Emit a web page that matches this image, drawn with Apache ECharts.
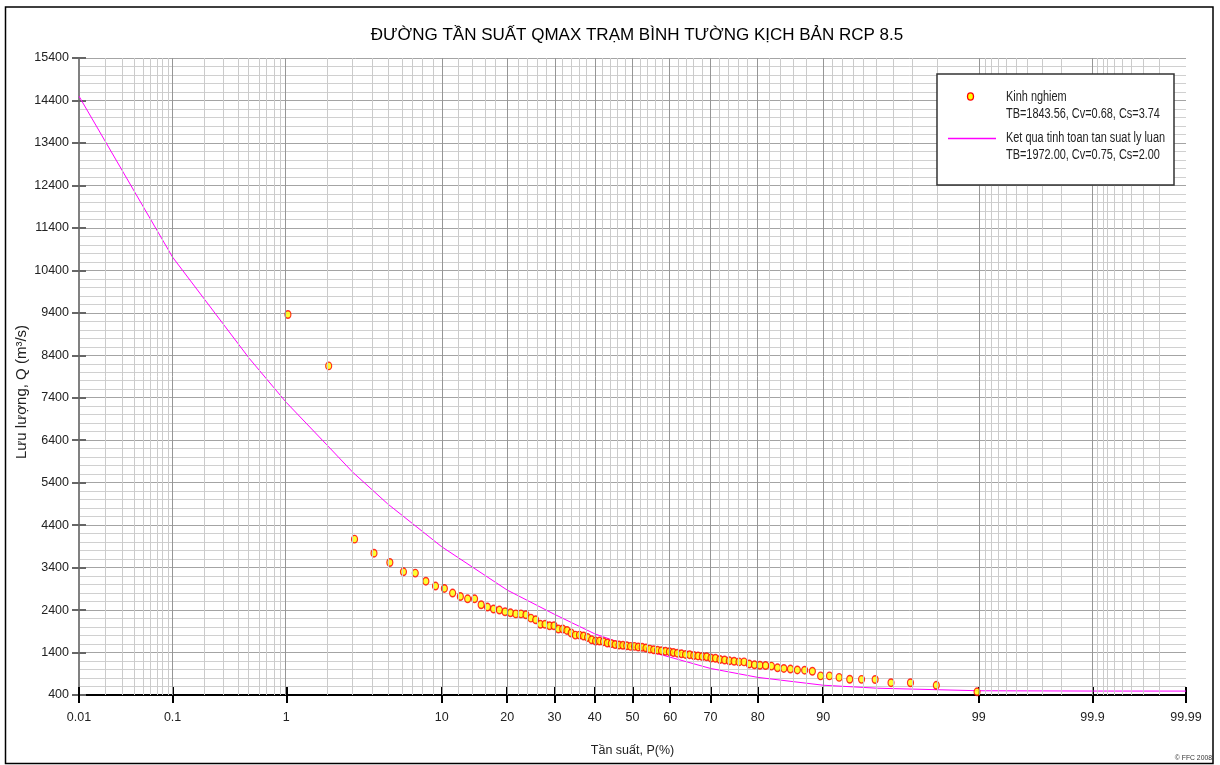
<!DOCTYPE html>
<html>
<head>
<meta charset="utf-8">
<script src="https://cdn.jsdelivr.net/npm/echarts@6/dist/echarts.min.js"></script>
<style>
  html, body { margin: 0; padding: 0; background: #fff; }
  #chart { width: 1220px; height: 765px; }
</style>
</head>
<body>
<div id="chart"></div>
<script>
// Empirical exceedance probabilities P (%) of the annual maxima
const empiricalP = [1.03, 2.06, 3.09, 4.12, 5.15, 6.19, 7.22, 8.25, 9.28, 10.31, 11.34, 12.37,
  13.40, 14.43, 15.46, 16.49, 17.53, 18.56, 19.59, 20.62, 21.65, 22.68, 23.71, 24.74,
  25.77, 26.80, 27.84, 28.87, 29.90, 30.93, 31.96, 32.99, 34.02, 35.05, 36.08, 37.11,
  38.14, 39.18, 40.21, 41.24, 42.27, 43.30, 44.33, 45.36, 46.39, 47.42, 48.45, 49.48,
  50.52, 51.55, 52.58, 53.61, 54.64, 55.67, 56.70, 57.73, 58.76, 59.79, 60.82, 61.86,
  62.89, 63.92, 64.95, 65.98, 67.01, 68.04, 69.07, 70.10, 71.13, 72.16, 73.20, 74.23,
  75.26, 76.29, 77.32, 78.35, 79.38, 80.41, 81.44, 82.47, 83.51, 84.54, 85.57, 86.60,
  87.63, 88.66, 89.69, 90.72, 91.75, 92.78, 93.81, 94.85, 95.88, 96.91, 97.94, 98.97];

// Empirical discharges Qmax (m3/s), sorted descending
const empiricalQ = [9360, 8150, 4070, 3740, 3520, 3300, 3270, 3080, 2965, 2910, 2800, 2720,
  2665, 2665, 2525, 2470, 2425, 2400, 2360, 2335, 2310, 2310, 2290, 2210,
  2170, 2065, 2065, 2030, 2030, 1955, 1955, 1920, 1860, 1810, 1810, 1790,
  1755, 1700, 1670, 1670, 1655, 1625, 1610, 1590, 1575, 1570, 1560, 1545,
  1545, 1530, 1525, 1505, 1480, 1465, 1455, 1440, 1430, 1420, 1400, 1385,
  1370, 1355, 1350, 1330, 1320, 1305, 1300, 1270, 1265, 1235, 1225, 1205,
  1195, 1180, 1180, 1130, 1110, 1100, 1095, 1080, 1040, 1025, 1010, 990,
  985, 960, 850, 850, 815, 770, 768, 765, 690, 688, 628, 475];

// Theoretical frequency curve (P %, Q m3/s)
const curveP = [0.01, 0.1, 0.5, 1, 2, 3, 5, 10, 20, 30, 40, 50, 60, 70, 80, 90, 95, 99, 99.9, 99.99];
const curveQ = [14500, 10710, 8330, 7290, 6290, 5650, 4900, 3890, 2870, 2300, 1840, 1530, 1290, 1025, 815, 630, 560, 500, 493, 492];

// Probability axis labels
const probTicks = [0.01, 0.1, 1, 10, 20, 30, 40, 50, 60, 70, 80, 90, 99, 99.9, 99.99];

// Discharge axis range
const qMin = 400, qMax = 15400, qStep = 1000;

const legendEmpirical = ['Kinh nghiem', 'TB=1843.56, Cv=0.68, Cs=3.74'];
const legendTheory = ['Ket qua tinh toan tan suat ly luan', 'TB=1972.00, Cv=0.75, Cs=2.00'];

// Inverse standard normal CDF (Acklam) - maps probability onto the normal-probability scale
function invNorm(p) {
  const a = [-3.969683028665376e+01, 2.209460984245205e+02, -2.759285104469687e+02, 1.383577518672690e+02, -3.066479806614716e+01, 2.506628277459239e+00];
  const b = [-5.447609879822406e+01, 1.615858368580409e+02, -1.556989798598866e+02, 6.680131188771972e+01, -1.328068155288572e+01];
  const c = [-7.784894002430293e-03, -3.223964580411365e-01, -2.400758277161838e+00, -2.549732539343734e+00, 4.374664141464968e+00, 2.938163982698783e+00];
  const d = [7.784695709041462e-03, 3.224671290700398e-01, 2.445134137142996e+00, 3.754408661907416e+00];
  const pl = 0.02425, ph = 1 - pl;
  let q, r;
  if (p < pl) {
    q = Math.sqrt(-2 * Math.log(p));
    return (((((c[0] * q + c[1]) * q + c[2]) * q + c[3]) * q + c[4]) * q + c[5]) / ((((d[0] * q + d[1]) * q + d[2]) * q + d[3]) * q + 1);
  }
  if (p <= ph) {
    q = p - 0.5; r = q * q;
    return (((((a[0] * r + a[1]) * r + a[2]) * r + a[3]) * r + a[4]) * r + a[5]) * q / (((((b[0] * r + b[1]) * r + b[2]) * r + b[3]) * r + b[4]) * r + 1);
  }
  q = Math.sqrt(-2 * Math.log(1 - p));
  return -(((((c[0] * q + c[1]) * q + c[2]) * q + c[3]) * q + c[4]) * q + c[5]) / ((((d[0] * q + d[1]) * q + d[2]) * q + d[3]) * q + 1);
}
const zOf = P => invNorm(P / 100);

// Vertical grid of the probability paper
const majorGridP = [0.1, 1, 10, 20, 30, 40, 50, 60, 70, 80, 90, 99, 99.9, 99.99];
const minorGridP = [];
[0.01, 0.1, 1].forEach(dec => { for (let k = 2; k <= 9; k++) minorGridP.push(+(dec * k).toFixed(4)); });
for (let p = 12; p < 90; p += 2) if (p % 10) minorGridP.push(p);
for (let p = 91; p <= 98; p++) minorGridP.push(p);
for (let k = 1; k <= 8; k++) { minorGridP.push(+(99 + k / 10).toFixed(2)); minorGridP.push(+(99.9 + k / 100).toFixed(3)); }

const zMin = zOf(probTicks[0]);
const zMax = zOf(probTicks[probTicks.length - 1]);
const tickZ = probTicks.map(zOf);

const gridLines = []
  .concat(minorGridP.map(p => ({ xAxis: zOf(p), lineStyle: { color: '#cbcbcb', width: 1, type: 'solid' } })))
  .concat(majorGridP.map(p => ({ xAxis: zOf(p), lineStyle: { color: '#969696', width: 1, type: 'solid' } })));

const SANS = '"Liberation Sans", Arial, sans-serif';

function probLabel(v) {
  let best = 0;
  for (let i = 1; i < tickZ.length; i++) if (Math.abs(tickZ[i] - v) < Math.abs(tickZ[best] - v)) best = i;
  return String(probTicks[best]);
}

// legend text, slightly condensed
function legendText(x, y, text) {
  return { type: 'text', x: x, y: y, scaleX: 0.78, z: 101,
    style: { text: text, font: '14px ' + SANS, fill: '#222', textVerticalAlign: 'middle' } };
}

const chart = echarts.init(document.getElementById('chart'), null, { renderer: 'canvas' });

chart.setOption({
  animation: false,
  backgroundColor: '#ffffff',
  title: {
    text: 'ĐƯỜNG TẦN SUẤT QMAX TRẠM BÌNH TƯỜNG KỊCH BẢN RCP 8.5',
    left: 632, top: 22, textAlign: 'center',
    textStyle: { fontFamily: SANS, fontSize: 17, fontWeight: 'normal', color: '#000' }
  },
  grid: { left: 79, right: 34, top: 58, bottom: 70, containLabel: false },
  xAxis: [{
    type: 'value', min: zMin, max: zMax, position: 'bottom',
    name: 'Tần suất, P(%)', nameLocation: 'middle', nameGap: 49,
    nameTextStyle: { fontFamily: SANS, fontSize: 12.5, color: '#222' },
    axisLine: { show: true, onZero: false, lineStyle: { color: '#000', width: 2 } },
    axisTick: { show: true, customValues: tickZ, length: 8, lineStyle: { color: '#000', width: 2 } },
    axisLabel: { show: true, customValues: tickZ, formatter: probLabel, margin: 16,
      fontFamily: SANS, fontSize: 12.5, color: '#222' },
    splitLine: { show: false }
  }, {
    type: 'value', min: zMin, max: zMax, position: 'bottom',
    axisLine: { show: false, onZero: false },
    axisTick: { show: true, inside: true, customValues: tickZ, length: 8, lineStyle: { color: '#000', width: 2 } },
    axisLabel: { show: false },
    splitLine: { show: false }
  }],
  yAxis: [{
    type: 'value', min: qMin, max: qMax, interval: qStep, position: 'left',
    axisLine: { show: true, onZero: false, lineStyle: { color: '#808080', width: 2 } },
    axisTick: { show: true, length: 7, lineStyle: { color: '#666', width: 2 } },
    axisLabel: { margin: 10, fontFamily: SANS, fontSize: 12.5, color: '#222', formatter: v => String(v) },
    splitLine: { show: true, lineStyle: { color: '#a4a4a4', width: 1 } },
    minorTick: { show: false, splitNumber: 5 },
    minorSplitLine: { show: true, lineStyle: { color: '#d0d0d0', width: 1 } }
  }, {
    type: 'value', min: qMin, max: qMax, interval: qStep, position: 'left',
    axisLine: { show: false, onZero: false },
    axisTick: { show: true, inside: true, length: 7, lineStyle: { color: '#666', width: 2 } },
    axisLabel: { show: false },
    splitLine: { show: false }
  }],
  graphic: [
    // outer frame
    { type: 'rect', shape: { x: 5.5, y: 7, width: 1207.5, height: 756.5 },
      style: { fill: 'none', stroke: '#000', lineWidth: 1.5 }, z: 100, silent: true },
    // Y axis title
    { type: 'text', x: 22, y: 392, rotation: Math.PI / 2, z: 100,
      style: { text: 'Lưu lượng, Q (m³/s)', font: '15px ' + SANS, fill: '#222', textAlign: 'center', textVerticalAlign: 'middle' } },
    // legend box
    { type: 'rect', shape: { x: 937, y: 74, width: 237, height: 111 },
      style: { fill: '#fff', stroke: '#333', lineWidth: 1.5 }, z: 100, silent: true },
    { type: 'ellipse', shape: { cx: 970.5, cy: 96.5, rx: 3, ry: 3.6 },
      style: { fill: '#ffff00', stroke: '#ff0000', lineWidth: 1.3 }, z: 101 },
    legendText(1006, 97.5, legendEmpirical[0]),
    legendText(1006, 114.5, legendEmpirical[1]),
    { type: 'line', shape: { x1: 948, y1: 138.5, x2: 996, y2: 138.5 },
      style: { stroke: '#ff00ff', lineWidth: 1.5 }, z: 101 },
    legendText(1006, 138.5, legendTheory[0]),
    legendText(1006, 155.5, legendTheory[1]),
    // credit
    { type: 'text', x: 1212, y: 758, z: 101, scaleX: 0.85,
      style: { text: '© FFC 2008', font: '8px ' + SANS, fill: '#333', textAlign: 'right', textVerticalAlign: 'middle' } }
  ],
  series: [
    {
      // probability-paper vertical grid
      name: 'grid', type: 'line', data: [], silent: true, z: 1,
      markLine: { silent: true, symbol: ['none', 'none'], label: { show: false },
        emphasis: { disabled: true }, animation: false, data: gridLines }
    },
    {
      name: 'Ket qua tinh toan tan suat ly luan', type: 'line', z: 3,
      data: curveP.map((p, i) => [zOf(p), curveQ[i]]),
      showSymbol: false, symbol: 'none', smooth: false,
      lineStyle: { color: '#ff00ff', width: 1 }
    },
    {
      name: 'Kinh nghiem', type: 'scatter', z: 4,
      data: empiricalP.map((p, i) => [zOf(p), empiricalQ[i]]),
      symbol: 'circle', symbolSize: [6, 7.5],
      itemStyle: { color: '#ffff00', borderColor: '#ff0000', borderWidth: 1.3 }
    }
  ]
});
</script>
</body>
</html>
